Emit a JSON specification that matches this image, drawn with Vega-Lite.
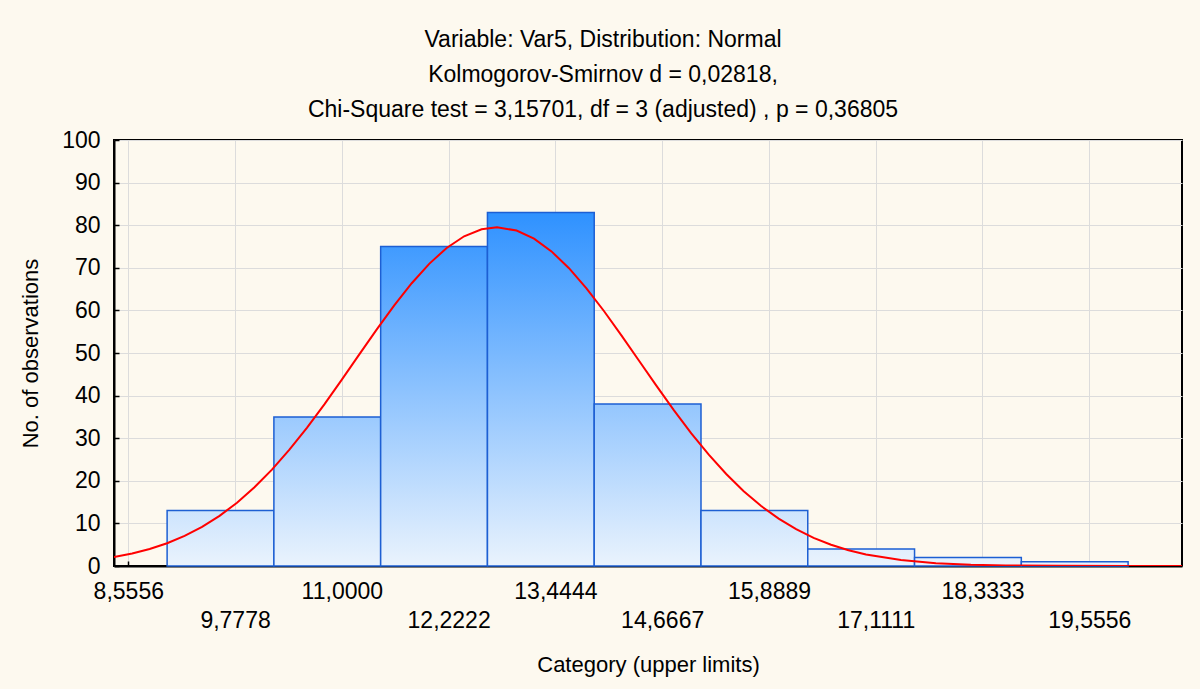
{
  "$schema": "https://vega.github.io/schema/vega-lite/v6.json",
  "width": 1068,
  "height": 426,
  "autosize": "none",
  "padding": {"left": 114, "top": 140, "right": 18, "bottom": 123},
  "background": "#fdf9ef",
  "title": {
    "text": [
      "Variable: Var5, Distribution: Normal",
      "Kolmogorov-Smirnov d = 0,02818,",
      "Chi-Square test = 3,15701, df = 3 (adjusted) , p = 0,36805"
    ],
    "font": "Liberation Sans",
    "fontSize": 23,
    "fontWeight": "normal",
    "color": "#000000",
    "lineHeight": 35,
    "anchor": "middle",
    "dx": -45,
    "offset": 7
  },
  "datasets": {
    "bins": [
      {"lo": 9.0, "hi": 10.2222, "count": 13},
      {"lo": 10.2222, "hi": 11.4444, "count": 35},
      {"lo": 11.4444, "hi": 12.6667, "count": 75},
      {"lo": 12.6667, "hi": 13.8889, "count": 83},
      {"lo": 13.8889, "hi": 15.1111, "count": 38},
      {"lo": 15.1111, "hi": 16.3333, "count": 13},
      {"lo": 16.3333, "hi": 17.5556, "count": 4},
      {"lo": 17.5556, "hi": 18.7778, "count": 2},
      {"lo": 18.7778, "hi": 20.0, "count": 1}
    ],
    "fit": [
      {"x": 8.392, "y": 2.09}, {"x": 8.6, "y": 2.93}, {"x": 8.8, "y": 3.99},
      {"x": 9.0, "y": 5.34}, {"x": 9.2, "y": 7.06}, {"x": 9.4, "y": 9.19},
      {"x": 9.6, "y": 11.77}, {"x": 9.8, "y": 14.86}, {"x": 10.0, "y": 18.48},
      {"x": 10.2, "y": 22.63}, {"x": 10.4, "y": 27.3}, {"x": 10.6, "y": 32.43},
      {"x": 10.8, "y": 37.95}, {"x": 11.0, "y": 43.75}, {"x": 11.2, "y": 49.67},
      {"x": 11.4, "y": 55.55}, {"x": 11.6, "y": 61.18}, {"x": 11.8, "y": 66.38},
      {"x": 12.0, "y": 70.93}, {"x": 12.2, "y": 74.66}, {"x": 12.4, "y": 77.4},
      {"x": 12.6, "y": 79.03}, {"x": 12.776, "y": 79.5}, {"x": 13.0, "y": 78.75},
      {"x": 13.2, "y": 76.84}, {"x": 13.4, "y": 73.85}, {"x": 13.6, "y": 69.91},
      {"x": 13.8, "y": 65.18}, {"x": 14.0, "y": 59.86}, {"x": 14.2, "y": 54.15},
      {"x": 14.4, "y": 48.25}, {"x": 14.6, "y": 42.34}, {"x": 14.8, "y": 36.6},
      {"x": 15.0, "y": 31.16}, {"x": 15.2, "y": 26.13}, {"x": 15.4, "y": 21.59},
      {"x": 15.6, "y": 17.56}, {"x": 15.8, "y": 14.07}, {"x": 16.0, "y": 11.11},
      {"x": 16.2, "y": 8.64}, {"x": 16.4, "y": 6.61}, {"x": 16.6, "y": 4.99},
      {"x": 16.8, "y": 3.7}, {"x": 17.0, "y": 2.71}, {"x": 17.4, "y": 1.39},
      {"x": 17.8, "y": 0.67}, {"x": 18.2, "y": 0.3}, {"x": 18.6, "y": 0.13},
      {"x": 19.2, "y": 0.03}, {"x": 20.0, "y": 0.0}, {"x": 20.617, "y": 0.0}
    ]
  },
  "config": {
    "font": "Liberation Sans",
    "view": {"stroke": "#000000", "strokeWidth": 2},
    "axis": {
      "labelFont": "Liberation Sans",
      "labelFontSize": 23,
      "labelColor": "#000000",
      "titleFont": "Liberation Sans",
      "titleFontSize": 22,
      "titleFontWeight": "normal",
      "titleColor": "#000000",
      "domainColor": "#000000",
      "domainWidth": 2,
      "tickColor": "#000000",
      "tickWidth": 1.5,
      "tickSize": -5,
      "gridColor": "#dcdcdc",
      "gridWidth": 1
    }
  },
  "layer": [
    {
      "data": {"name": "bins"},
      "mark": {
        "type": "bar",
        "orient": "vertical",
        "stroke": "#1d5fd3",
        "strokeWidth": 1.5,
        "fill": {"expr": "{gradient: 'linear', x1: 0, y1: (datum.count - 85) / datum.count, x2: 0, y2: 1, stops: [{offset: 0, color: '#2a8fff'}, {offset: 1, color: '#eaf3fd'}]}"}
      },
      "encoding": {
        "x": {
          "field": "lo",
          "type": "quantitative",
          "scale": {"domain": [8.392, 20.617], "nice": false, "zero": false, "padding": 0},
          "axis": {
            "title": "Category (upper limits)",
            "values": [8.5556, 9.7778, 11.0, 12.2222, 13.4444, 14.6667, 15.8889, 17.1111, 18.3333, 19.5556],
            "labelExpr": "round((datum.value - 8.5556) / 1.2222) % 2 == 1 ? ['', replace(format(datum.value, '.4f'), '.', ',')] : replace(format(datum.value, '.4f'), '.', ',')",
            "labelLineHeight": 29,
            "labelPadding": 19,
            "labelOverlap": false,
            "labelFlush": false,
            "titlePadding": 22
          }
        },
        "x2": {"field": "hi"},
        "y": {
          "field": "count",
          "type": "quantitative",
          "scale": {"domain": [0, 100], "nice": false},
          "axis": {
            "title": "No. of observations",
            "values": [0, 10, 20, 30, 40, 50, 60, 70, 80, 90, 100],
            "labelPadding": 19,
            "titlePadding": 19
          }
        },
        "y2": {"datum": 0}
      }
    },
    {
      "data": {"name": "fit"},
      "mark": {"type": "line", "color": "#ff0000", "strokeWidth": 2, "clip": true},
      "encoding": {
        "x": {"field": "x", "type": "quantitative"},
        "y": {"field": "y", "type": "quantitative"}
      }
    }
  ]
}
